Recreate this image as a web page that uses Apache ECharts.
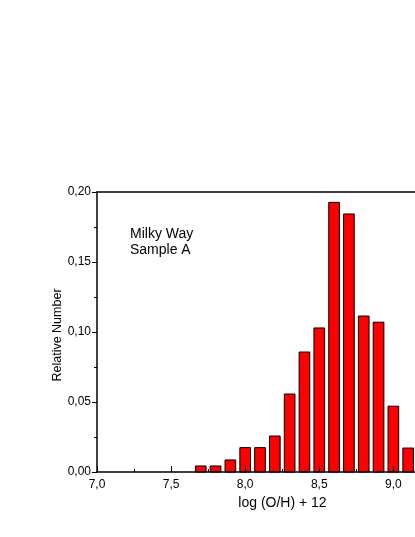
<!DOCTYPE html>
<html>
<head>
<meta charset="utf-8">
<script src="https://cdn.jsdelivr.net/npm/echarts@6/dist/echarts.min.js"></script>
<style>
html,body{margin:0;padding:0;background:#fff;}
#chart{width:415px;height:537px;}
</style>
</head>
<body>
<div id="chart"></div>
<script>
// Bin centres of log(O/H)+12
const binCenters = [7.7, 7.8, 7.9, 8.0, 8.1, 8.2, 8.3, 8.4, 8.5, 8.6, 8.7, 8.8, 8.9, 9.0, 9.1];
// Relative number per bin
const relNumber = [0.0043, 0.0043, 0.0086, 0.0174, 0.0174, 0.0257, 0.0557, 0.0857, 0.1029, 0.1926, 0.1843, 0.1114, 0.107, 0.047, 0.0171];
const xTickLabels = ['7,0', '7,5', '8,0', '8,5', '9,0'];
const yTickLabels = ['0,00', '0,05', '0,10', '0,15', '0,20'];
const annotation = ['Milky Way', 'Sample A'];
const xTitle = 'log (O/H) + 12';
const yTitle = 'Relative Number';

const FONT = '"Liberation Sans", Arial, sans-serif';
const BAR_HALF = 0.036;
const chart = echarts.init(document.getElementById('chart'), null, {renderer: 'canvas'});

function xLabel(v) {
  const i = Math.round((v - 7) / 0.5);
  if (Math.abs(v - (7 + i * 0.5)) > 1e-6 || i < 0 || i >= xTickLabels.length) return '';
  return xTickLabels[i];
}
function yLabel(v) {
  const i = Math.round(v / 0.05);
  if (i < 0 || i >= yTickLabels.length) return '';
  return yTickLabels[i];
}

chart.setOption({
  animation: false,
  backgroundColor: '#fff',
  grid: {left: 97, top: 192, width: 326, height: 280, containLabel: false, outerBoundsMode: 'none'},
  xAxis: [{
    type: 'value', min: 7, max: 9.2, interval: 0.5, z: 5,
    axisLine: {show: true, onZero: false, lineStyle: {color: '#000', width: 1.5}},
    axisTick: {show: true, inside: true, length: 6, lineStyle: {color: '#000', width: 1}},
    minorTick: {show: true, splitNumber: 2, length: 3, lineStyle: {color: '#000', width: 1}},
    axisLabel: {formatter: xLabel, margin: 7, color: '#000', fontSize: 12, fontFamily: FONT},
    splitLine: {show: false}, minorSplitLine: {show: false}
  }, {
    type: 'value', position: 'top', min: 7, max: 9.2, z: 5,
    axisLine: {show: true, onZero: false, lineStyle: {color: '#000', width: 1.5}},
    axisTick: {show: false}, axisLabel: {show: false}, splitLine: {show: false}
  }],
  yAxis: {
    type: 'value', min: 0, max: 0.2, interval: 0.05, z: 5,
    axisLine: {show: true, onZero: false, lineStyle: {color: '#000', width: 1.5}},
    axisTick: {show: true, inside: false, length: 5, lineStyle: {color: '#000', width: 1}},
    minorTick: {show: true, splitNumber: 2, length: 3, lineStyle: {color: '#000', width: 1}},
    axisLabel: {formatter: yLabel, margin: 6, color: '#000', fontSize: 12, fontFamily: FONT},
    splitLine: {show: false}, minorSplitLine: {show: false}
  },
  series: [{
    type: 'custom',
    xAxisIndex: 0,
    z: 2,
    data: binCenters.map((x, i) => [x, relNumber[i]]),
    encode: {x: 0, y: 1},
    renderItem: function (params, api) {
      const x = api.value(0), y = api.value(1);
      const p1 = api.coord([x - BAR_HALF, y]);
      const p2 = api.coord([x + BAR_HALF, 0]);
      return {
        type: 'rect',
        shape: {x: p1[0], y: p1[1], width: p2[0] - p1[0], height: p2[1] - p1[1]},
        style: {fill: '#ff0000', stroke: '#000', lineWidth: 1}
      };
    }
  }],
  graphic: [
    {type: 'text', left: 130, top: 226, style: {text: annotation.join('\n'), font: '14px ' + FONT, fill: '#000', lineHeight: 16}},
    {type: 'text', x: 282.5, y: 503, style: {text: xTitle, font: '14px ' + FONT, fill: '#000', align: 'center', verticalAlign: 'middle'}},
    {type: 'text', x: 58, y: 335, rotation: Math.PI / 2, style: {text: yTitle, font: '12.5px ' + FONT, fill: '#000', align: 'center', verticalAlign: 'middle'}}
  ]
});
</script>
</body>
</html>
